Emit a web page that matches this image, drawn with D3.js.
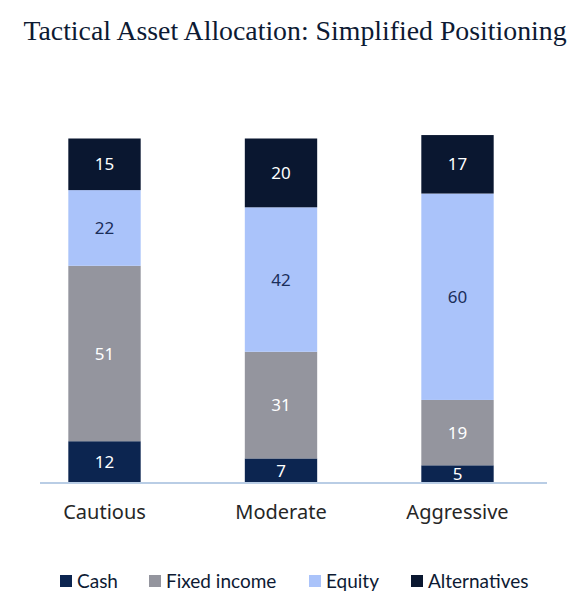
<!DOCTYPE html>
<html>
<head>
<meta charset="utf-8">
<script src="https://cdn.jsdelivr.net/npm/d3@7"></script>
<style>
	body { margin: 0; background: #fff; }
	svg { display: block; }
</style>
</head>
<body>
<div id="chart"></div>
<script>
// data
const categories = ["Cautious", "Moderate", "Aggressive"];
const seriesNames = ["Cash", "Fixed income", "Equity", "Alternatives"];
const cash = [12, 7, 5];
const fixedIncome = [51, 31, 19];
const equity = [22, 42, 60];
const alternatives = [15, 20, 17];

const colors = ["#0c2550", "#94959e", "#aac3fa", "#0a1730"];
const labelColors = ["#ffffff", "#ffffff", "#1b2e5a", "#ffffff"];

const width = 588, height = 611;

const svg = d3.select("#chart")
	.append("svg")
	.attr("width", width)
	.attr("height", height);

// title
svg.append("text")
	.attr("x", 295)
	.attr("y", 40)
	.attr("text-anchor", "middle")
	.attr("font-family", "'Liberation Serif', 'DejaVu Serif', serif")
	.attr("font-size", "27.8px")
	.attr("fill", "#0d1a33")
	.text("Tactical Asset Allocation: Simplified Positioning");

// build a table for the stack
const table = categories.map((c, i) => ({
	category: c,
	"Cash": cash[i],
	"Fixed income": fixedIncome[i],
	"Equity": equity[i],
	"Alternatives": alternatives[i]
}));

const stack = d3.stack().keys(seriesNames)(table);

const x = d3.scaleBand()
	.domain(categories)
	.range([16.25, 545.75])
	.paddingInner(0.59)
	.paddingOuter(0.295);

const y = d3.scaleLinear()
	.domain([0, 100])
	.range([482.5, 138.5]);

const layers = svg.append("g")
	.selectAll("g")
	.data(stack)
	.enter()
	.append("g")
	.attr("fill", (d, i) => colors[i]);

layers.selectAll("rect")
	.data(d => d)
	.enter()
	.append("rect")
	.attr("x", d => x(d.data.category))
	.attr("y", d => y(d[1]))
	.attr("width", x.bandwidth())
	.attr("height", d => y(d[0]) - y(d[1]));

// value labels
stack.forEach(function (layer, li) {
	svg.append("g")
		.selectAll("text")
		.data(layer)
		.enter()
		.append("text")
		.attr("x", d => x(d.data.category) + x.bandwidth() / 2)
		.attr("y", d => (y(d[0]) + y(d[1])) / 2)
		.attr("dy", "0.36em")
		.attr("text-anchor", "middle")
		.attr("font-family", "'Noto Sans', sans-serif")
		.attr("font-size", "17px")
		.attr("fill", labelColors[li])
		.text(d => d[1] - d[0]);
});

// axis line + category labels
const axis = svg.append("g")
	.attr("transform", `translate(0, ${y(0)})`)
	.call(d3.axisBottom(x).tickSize(0).tickPadding(22));
axis.select(".domain")
	.attr("d", "M40,0.5H547")
	.attr("stroke", "#b9cde5")
	.attr("stroke-width", 2);
axis.selectAll("text")
	.attr("font-family", "'Noto Sans', sans-serif")
	.attr("font-size", "20px")
	.attr("fill", "#262626");

// legend
const legendX = [60, 149, 309, 411];
const legend = svg.append("g")
	.selectAll("g")
	.data(seriesNames)
	.enter()
	.append("g")
	.attr("transform", (d, i) => `translate(${legendX[i]}, 581)`);
legend.append("rect")
	.attr("x", 0)
	.attr("y", -6)
	.attr("width", 12)
	.attr("height", 12)
	.attr("fill", (d, i) => colors[i]);
legend.append("text")
	.attr("x", 17)
	.attr("y", 0)
	.attr("dy", "0.35em")
	.attr("font-family", "Lato, sans-serif")
	.attr("font-size", "19px")
	.attr("fill", "#0d1a33")
	.text(d => d);
</script>
</body>
</html>
